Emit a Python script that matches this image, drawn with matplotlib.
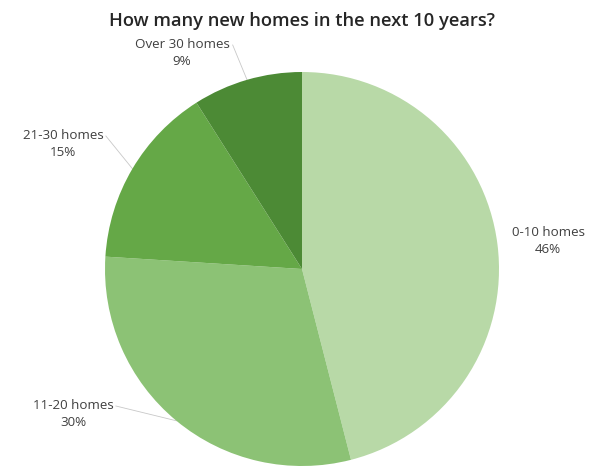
import numpy as np
import matplotlib.pyplot as plt

plt.rcParams['font.family'] = ['Open Sans', 'DejaVu Sans']

categories = ['0-10 homes', '11-20 homes', '21-30 homes', 'Over 30 homes']
shares = [46, 30, 15, 9]
colors = ['#b8d9a7', '#8cc275', '#65a847', '#4c8a35']

# label anchor points, figure pixels (y measured from the top)
label_xy = [(548, 241), (73, 414), (63, 144), (182, 53)]

W, H = 593, 468
fig = plt.figure(figsize=(W / 100, H / 100), dpi=100)
ax = fig.add_axes([0, 0, 1, 1])

cx, cy, r = 302, H - 269, 197
wedges, _ = ax.pie(shares, colors=colors, startangle=90, counterclock=False,
                   center=(cx, cy), radius=r, frame=True,
                   wedgeprops=dict(linewidth=0))
ax.set_xlim(0, W)
ax.set_ylim(0, H)
ax.axis('off')

for w, name, val, (lx, ly) in zip(wedges, categories, shares, label_xy):
    mid = np.deg2rad((w.theta1 + w.theta2) / 2)
    ex, ey = cx + r * np.cos(mid), cy + r * np.sin(mid)
    ax.text(lx, H - ly, f'{name}\n{val}%', ha='center', va='center',
            fontsize=9.6, color='#404040', linespacing=1.4)
    if name != '0-10 homes':
        # short grey leader from the label toward the wedge edge
        tx = lx + (len(name) * 3.9) * (1 if ex > lx else -1)
        ax.plot([tx, ex], [H - ly + 8, ey], color='#c8c8c8', lw=0.6, zorder=0)

fig.text(302, H - 21, 'How many new homes in the next 10 years?',
         transform=None, ha='center', va='center',
         fontsize=13.2, fontweight='semibold', color='#262626')

plt.savefig('out.png', dpi=100)
